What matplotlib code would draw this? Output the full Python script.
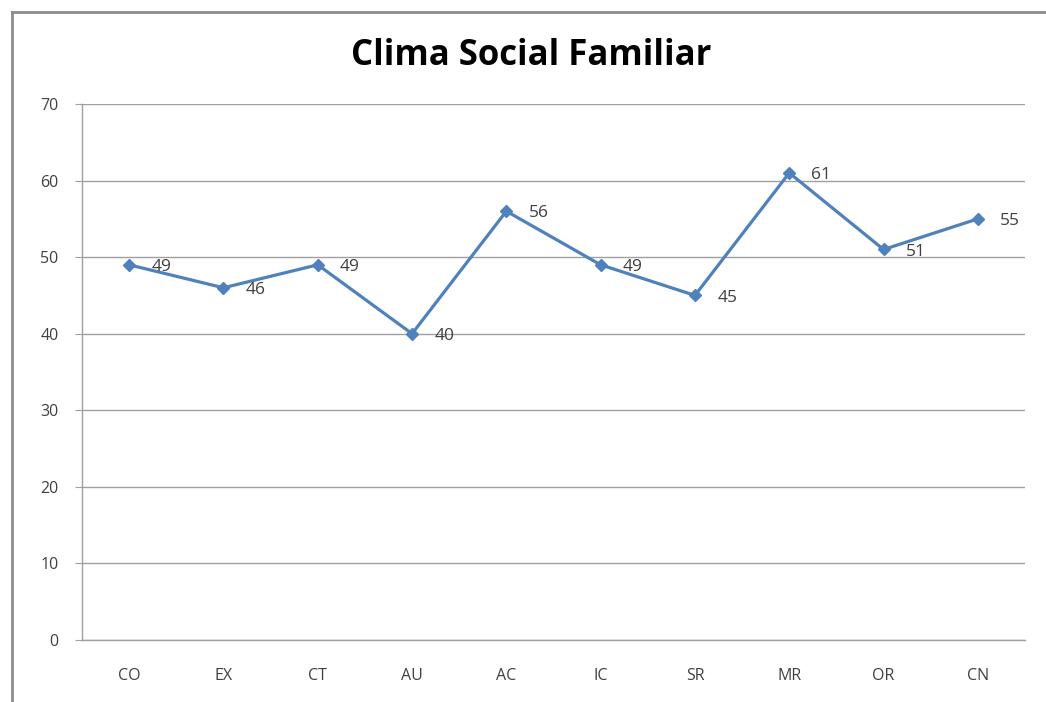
import matplotlib

matplotlib.use("Agg")
import matplotlib.pyplot as plt  # noqa: E402
from matplotlib.lines import Line2D  # noqa: E402

# Clima Social Familiar subscale scores
categories = ["CO", "EX", "CT", "AU", "AC", "IC", "SR", "MR", "OR", "CN"]
scores = [49, 46, 49, 40, 56, 49, 45, 61, 51, 55]
y_ticks = [0, 10, 20, 30, 40, 50, 60, 70]

LINE_BLUE = "#4F81BD"
GRID_GRAY = "#A0A0A0"
TEXT_GRAY = "#404040"

plt.rcParams["font.family"] = ["Open Sans", "DejaVu Sans"]

W, H = 1046, 702
fig = plt.figure(figsize=(W / 100, H / 100), dpi=100)

# outer chart frame (left and top edges visible)
fig.add_artist(Line2D([12 / W, 12 / W], [0, 1 - 12 / H], transform=fig.transFigure,
                      color="#8C8C8C", linewidth=2))
fig.add_artist(Line2D([12 / W, 1], [1 - 12 / H, 1 - 12 / H], transform=fig.transFigure,
                      color="#8C8C8C", linewidth=2))

ax = fig.add_axes([82 / W, (H - 640) / H, (1025 - 82) / W, (640 - 104) / H])
x = list(range(len(categories)))
ax.plot(x, scores, color=LINE_BLUE, linewidth=2.3, marker="D", markersize=6.5,
        markerfacecolor=LINE_BLUE, markeredgecolor=LINE_BLUE, zorder=3)

for xi, v in zip(x, scores):
    ax.annotate(str(v), (xi, v), xytext=(16, -1.5), textcoords="offset points",
                ha="left", va="center", fontsize=12.5, color=TEXT_GRAY, zorder=4)

ax.set_xlim(-0.5, len(categories) - 0.5)
ax.set_ylim(0, 70)
ax.set_yticks(y_ticks)
ax.set_xticks(x)
ax.set_xticklabels(categories)
ax.yaxis.grid(True, color=GRID_GRAY, linewidth=1)
ax.set_axisbelow(True)

for side in ("top", "right"):
    ax.spines[side].set_visible(False)
for side in ("left", "bottom"):
    ax.spines[side].set_color(GRID_GRAY)
    ax.spines[side].set_linewidth(1)

ax.tick_params(axis="y", length=5, color=GRID_GRAY, labelsize=11.5, labelcolor=TEXT_GRAY, pad=12)
ax.tick_params(axis="x", length=0, labelsize=11.5, labelcolor=TEXT_GRAY, pad=20)

fig.text(531 / W, 1 - 56 / H, "Clima Social Familiar", ha="center", va="center",
         fontsize=25, fontweight="bold", color="black")

fig.savefig("out.png", dpi=100)
plt.close(fig)
